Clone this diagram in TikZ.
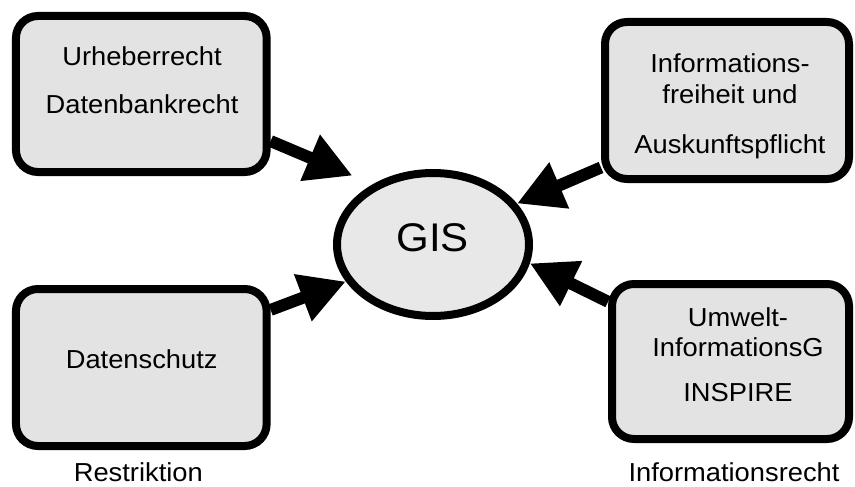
\documentclass[tikz,border=0pt]{standalone}
\usepackage{fontspec}
\setmainfont{Liberation Sans}[FakeStretch=1.05]
\usetikzlibrary{arrows.meta,shapes.geometric}

\begin{document}
\begin{tikzpicture}[
  x=1pt, y=-1pt,
  topic/.style={draw, rounded corners=22pt, line width=8pt, fill=black!11, inner sep=0pt},
  hub/.style={draw, ellipse, line width=8pt, fill=black!9, inner sep=0pt, minimum width=192pt, minimum height=143pt},
  boxtext/.style={align=center, font=\fontsize{26}{30.6}\selectfont},
  caption/.style={anchor=base, inner sep=0pt, font=\fontsize{26}{30.6}\selectfont},
  flow/.style={-{Triangle[length=46pt, width=47pt]}, line width=12pt, draw=black},
]
\useasboundingbox (0,0) rectangle (855,487);

% Restriktion (left side)
\node[topic, minimum width=250.7pt, minimum height=156pt] (urheber) at (141.3,94) {};
\node[boxtext] (urhebertxt) at (142,80.5) {Urheberrecht\\[17.4pt]Datenbankrecht};
\node[topic, minimum width=250.7pt, minimum height=157pt] (schutz) at (141.3,367.5) {};
\node[caption] (schutztxt) at (141.7,368.3) {Datenschutz};
\node[caption] (restr) at (138.3,481.5) {Restriktion};

% Informationsrecht (right side)
\node[topic, minimum width=244pt, minimum height=157pt] (freiheit) at (727,100.5) {};
\node[boxtext] (freiheittxt) at (730,106.3) {Informations-\\freiheit und\\[19.4pt]Auskunftspflicht};
\node[topic, minimum width=237pt, minimum height=155pt] (umwelt) at (730.5,361.5) {};
\node[boxtext] (umwelttxt) at (738,354.7) {Umwelt-\\InformationsG\\[14.4pt]INSPIRE};
\node[caption] (infrecht) at (734,481) {Informationsrecht};

% centre
\node[hub] (gis) at (433,244.5) {};
\node[caption, font=\fontsize{40}{48}\selectfont] (gistxt) at (432.7,251.7) {GIS};

\draw[flow, shorten >=22pt] (urheber.-20) -- (gis.135);
\draw[flow] (freiheit.208) -- (gis.26);
\draw[flow] (schutz.24) -- (gis.203);
\draw[flow] (umwelt.154) -- (gis.-11);

\end{tikzpicture}
\end{document}
